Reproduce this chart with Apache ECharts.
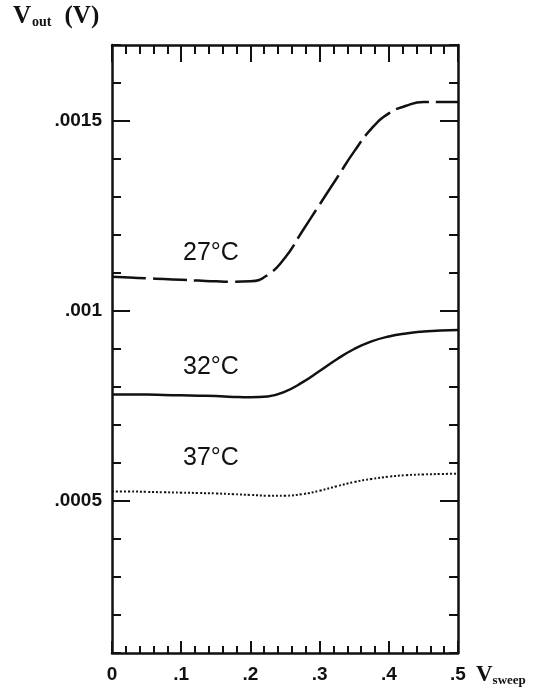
<!DOCTYPE html>
<html><head><meta charset="utf-8">
<script src="https://cdn.jsdelivr.net/npm/echarts@6/dist/echarts.min.js"></script>
<style>html,body{margin:0;padding:0;background:#fff}#c{width:539px;height:697px}</style>
</head><body><div id="c"></div>
<script>
// V_sweep values (V)
const xValues = [0,0.025,0.05,0.075,0.1,0.125,0.15,0.175,0.2,0.225,0.25,0.275,0.3,0.325,0.35,0.375,0.4,0.425,0.45,0.475,0.5];
// V_out (V) per temperature
const t27 = [0.00109,0.001088,0.001086,0.001084,0.001082,0.00108,0.001078,0.001077,0.001078,0.001095,0.00114,0.00121,0.00128,0.00135,0.00142,0.00148,0.00152,0.00154,0.00155,0.00155,0.00155];
const t32 = [0.00078,0.00078,0.00078,0.000779,0.000778,0.000777,0.000776,0.000774,0.000773,0.000775,0.000788,0.000812,0.000842,0.000873,0.0009,0.00092,0.000933,0.000941,0.000946,0.000949,0.00095];
const t37 = [0.000525,0.000525,0.000524,0.000523,0.000522,0.000521,0.00052,0.000518,0.000516,0.000514,0.000514,0.000518,0.000527,0.000539,0.00055,0.000558,0.000564,0.000568,0.00057,0.000571,0.000572];
const seriesNames = ['27°C','32°C','37°C'];
const xTickLabels = {0:'0',1:'.1',2:'.2',3:'.3',4:'.4',5:'.5'};
const yTickLabels = {5:'.0005',10:'.001',15:'.0015'};
const yMajor = [0.0005,0.001,0.0015];

const pairs = a => xValues.map((x,i)=>[x,a[i]]);
const black = '#111';
const tickFont = {color:black,fontFamily:'Liberation Sans',fontWeight:'bold',fontSize:19};

function xAx(pos, major, minor, labels){
  return {type:'value',position:pos,min:0,max:0.5,interval:0.1,
    axisLine:{show:true,onZero:false,lineStyle:{color:black,width:2.5}},
    axisTick:{show:true,inside:true,length:major,lineStyle:{color:black,width:2}},
    minorTick:{show:true,splitNumber:5,length:minor,lineStyle:{color:black,width:2}},
    splitLine:{show:false},minorSplitLine:{show:false},
    axisLabel:labels?Object.assign({show:true,margin:12,formatter:v=>xTickLabels[Math.round(v*10)]||''},tickFont):{show:false}};
}
function yAx(pos, showLine, ticks, len, labels){
  const o = {type:'value',position:pos,min:0.0001,max:0.0017,interval:0.0001,
    axisLine:{show:showLine,onZero:false,lineStyle:{color:black,width:2.5}},
    axisTick:{show:true,inside:true,length:len,lineStyle:{color:black,width:2}},
    splitLine:{show:false},
    axisLabel:labels?Object.assign({show:true,margin:10,formatter:v=>yTickLabels[Math.round(v*10000)]||''},tickFont):{show:false}};
  if (ticks) o.axisTick.customValues = ticks;
  return o;
}

const chart = echarts.init(document.getElementById('c'));
chart.setOption({
  animation:false,
  backgroundColor:'#fff',
  grid:{left:112,right:81,top:45,bottom:44,containLabel:false},
  xAxis:[xAx('bottom',12,7,true), xAx('top',17,9,false)],
  yAxis:[yAx('left',true,null,9,true), yAx('left',false,yMajor,18,false),
         yAx('right',true,null,9,false), yAx('right',false,yMajor,18,false)],
  series:[
    {name:seriesNames[0],type:'line',data:pairs(t27),smooth:true,showSymbol:false,
     lineStyle:{color:black,width:2.5,type:[34,7]}},
    {name:seriesNames[1],type:'line',data:pairs(t32),smooth:true,showSymbol:false,
     lineStyle:{color:black,width:2.5}},
    {name:seriesNames[2],type:'line',data:pairs(t37),smooth:true,showSymbol:false,
     lineStyle:{color:black,width:2,type:[2,2]}}
  ],
  graphic:[
    {type:'text',left:183,top:241,style:{text:seriesNames[0],fill:black,font:'25px "Liberation Sans"'}},
    {type:'text',left:183,top:355,style:{text:seriesNames[1],fill:black,font:'25px "Liberation Sans"'}},
    {type:'text',left:183,top:446,style:{text:seriesNames[2],fill:black,font:'25px "Liberation Sans"'}},
    {type:'text',left:13,top:4,style:{text:'{v|V}{s|out}{v|(V)}',fill:black,
      rich:{v:{font:'bold 25px "Liberation Serif"',fill:black,verticalAlign:'bottom'},
            s:{font:'bold 14px "Liberation Serif"',fill:black,verticalAlign:'bottom',padding:[0,13,0,1]}}}},
    {type:'text',left:476,top:664,style:{text:'{v|V}{s|sweep}',fill:black,
      rich:{v:{font:'bold 23px "Liberation Serif"',fill:black,verticalAlign:'bottom'},
            s:{font:'bold 13px "Liberation Serif"',fill:black,verticalAlign:'bottom'}}}}
  ]
});
</script></body></html>
